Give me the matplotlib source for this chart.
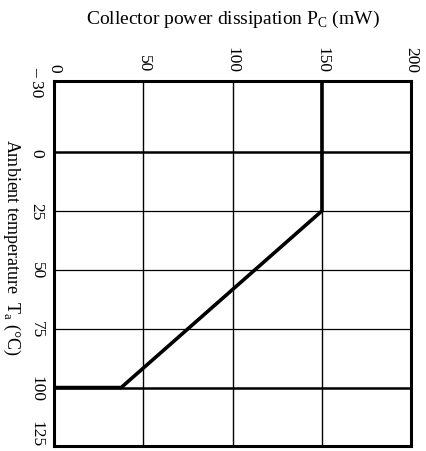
import matplotlib
matplotlib.use("Agg")
import matplotlib.pyplot as plt

plt.rcParams['font.family'] = ['Liberation Serif', 'DejaVu Serif']
plt.rcParams['mathtext.fontset'] = 'custom'
plt.rcParams['mathtext.rm'] = 'Liberation Serif'

# derating curve: power (mW) vs ambient temperature (deg C)
power = [150, 150, 37.5, 0]
temp = [-30, 25, 100, 100]

power_ticks = [0, 50, 100, 150, 200]
temp_ticks = [-30, 0, 25, 50, 75, 100, 125]
temp_labels = ['– 30', '0', '25', '50', '75', '100', '125']

fig = plt.figure(figsize=(4.27, 4.52), dpi=100)
ax = fig.add_axes([0.127, 0.01, 0.836, 0.808])

for p in power_ticks[1:-1]:
    ax.axvline(p, color='black', lw=1.0, zorder=1)
for t in temp_ticks[1:-1]:
    w = 1.8 if t in (0, 100) else 0.9
    ax.axhline(t, color='black', lw=w, zorder=1)

ax.plot(power, temp, color='black', lw=2.6, solid_joinstyle='miter', zorder=3)

ax.set_xlim(0, 200)
ax.set_ylim(125, -30)
for s in ax.spines.values():
    s.set_linewidth(2.2)

ax.xaxis.tick_top()
ax.set_xticks(power_ticks)
ax.set_xticklabels([str(p) for p in power_ticks], rotation=-90, fontsize=12.5)
ax.set_yticks(temp_ticks)
ax.set_yticklabels(temp_labels, rotation=-90, fontsize=12.5, va='center')
ax.get_yticklabels()[-1].set_va('bottom')
ax.tick_params(length=0, pad=7)

fig.text(0.545, 0.958, r'Collector power dissipation P$_{\rm C}$ (mW)',
         ha='center', va='center', fontsize=14)
fig.text(0.028, 0.452, r'Ambient temperature  T$_{\rm a}$ (°C)',
         ha='center', va='center', rotation=-90, fontsize=13)

fig.savefig('out.png', dpi=100)
